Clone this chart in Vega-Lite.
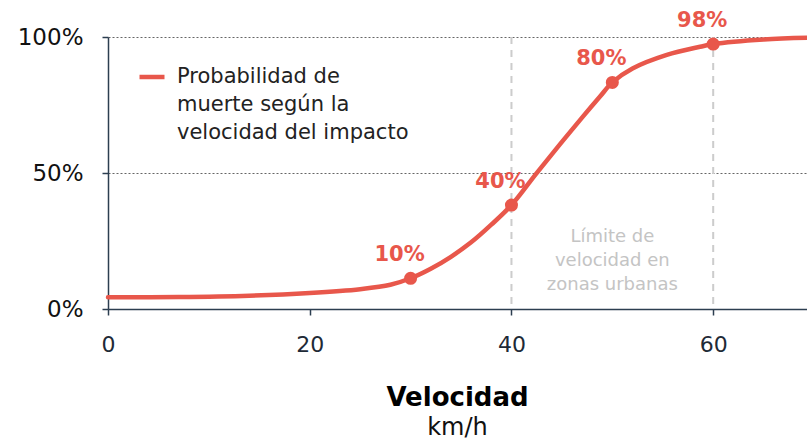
{
  "$schema": "https://vega.github.io/schema/vega-lite/v6.json",
  "width": 699,
  "height": 272,
  "autosize": {"type": "none"},
  "padding": {"left": 108, "top": 37, "right": 0, "bottom": 134},
  "background": "white",
  "config": {
    "view": {"stroke": null},
    "font": "DejaVu Sans"
  },
  "title": {
    "text": "Velocidad",
    "subtitle": "km/h",
    "orient": "bottom",
    "anchor": "middle",
    "font": "DejaVu Sans",
    "fontSize": 26,
    "fontWeight": "bold",
    "color": "#000000",
    "subtitleFont": "DejaVu Sans",
    "subtitleFontSize": 24,
    "subtitleColor": "#111111",
    "subtitlePadding": 5,
    "offset": 30
  },
  "datasets": {
    "curve": [
      {"v": 0, "p": 4.3, "s": "Probabilidad de muerte según la velocidad del impacto"},
      {"v": 7, "p": 4.4, "s": "Probabilidad de muerte según la velocidad del impacto"},
      {"v": 14, "p": 4.9, "s": "Probabilidad de muerte según la velocidad del impacto"},
      {"v": 20, "p": 5.9, "s": "Probabilidad de muerte según la velocidad del impacto"},
      {"v": 25, "p": 7.3, "s": "Probabilidad de muerte según la velocidad del impacto"},
      {"v": 28, "p": 8.9, "s": "Probabilidad de muerte según la velocidad del impacto"},
      {"v": 30, "p": 11.3, "s": "Probabilidad de muerte según la velocidad del impacto"},
      {"v": 32, "p": 14.8, "s": "Probabilidad de muerte según la velocidad del impacto"},
      {"v": 34, "p": 19.2, "s": "Probabilidad de muerte según la velocidad del impacto"},
      {"v": 36, "p": 24.5, "s": "Probabilidad de muerte según la velocidad del impacto"},
      {"v": 38, "p": 31, "s": "Probabilidad de muerte según la velocidad del impacto"},
      {"v": 40, "p": 38.2, "s": "Probabilidad de muerte según la velocidad del impacto"},
      {"v": 42.4, "p": 49.5, "s": "Probabilidad de muerte según la velocidad del impacto"},
      {"v": 44.8, "p": 60.5, "s": "Probabilidad de muerte según la velocidad del impacto"},
      {"v": 47.1, "p": 70.8, "s": "Probabilidad de muerte según la velocidad del impacto"},
      {"v": 48.8, "p": 78.2, "s": "Probabilidad de muerte según la velocidad del impacto"},
      {"v": 50, "p": 83.3, "s": "Probabilidad de muerte según la velocidad del impacto"},
      {"v": 52, "p": 88.4, "s": "Probabilidad de muerte según la velocidad del impacto"},
      {"v": 55.4, "p": 93.4, "s": "Probabilidad de muerte según la velocidad del impacto"},
      {"v": 58.7, "p": 96.4, "s": "Probabilidad de muerte según la velocidad del impacto"},
      {"v": 60, "p": 97.4, "s": "Probabilidad de muerte según la velocidad del impacto"},
      {"v": 65, "p": 99.1, "s": "Probabilidad de muerte según la velocidad del impacto"},
      {"v": 69.3, "p": 99.7, "s": "Probabilidad de muerte según la velocidad del impacto"}
    ],
    "pts": [
      {"v": 30, "p": 11.3, "lab": "10%"},
      {"v": 40, "p": 38.2, "lab": "40%"},
      {"v": 50, "p": 83.3, "lab": "80%"},
      {"v": 60, "p": 97.4, "lab": "98%"}
    ],
    "limits": [{"v": 40}, {"v": 60}],
    "note": [{"v": 50, "p": 26.6, "t": "Límite de\nvelocidad en\nzonas urbanas"}]
  },
  "layer": [
    {
      "data": {"name": "limits"},
      "mark": {"type": "rule", "color": "#cccccc", "strokeWidth": 2, "strokeDash": [7, 6]},
      "encoding": {
        "x": {"field": "v", "type": "quantitative", "scale": {"domain": [0, 69.3], "nice": false}}
      }
    },
    {
      "data": {"name": "note"},
      "mark": {"type": "text", "color": "#c4c4c4", "fontSize": 18, "lineBreak": "\n", "lineHeight": 24, "align": "center", "baseline": "middle"},
      "encoding": {
        "x": {"field": "v", "type": "quantitative"},
        "y": {"field": "p", "type": "quantitative"},
        "text": {"field": "t"}
      }
    },
    {
      "data": {"name": "curve"},
      "mark": {"type": "line", "interpolate": "catmull-rom", "strokeWidth": 4.5, "strokeCap": "round"},
      "encoding": {
        "x": {
          "field": "v", "type": "quantitative",
          "scale": {"domain": [0, 69.3], "nice": false},
          "axis": {
            "values": [0, 20, 40, 60],
            "title": null,
            "grid": false,
            "domainColor": "#2c3e50",
            "domainWidth": 1.5,
            "tickColor": "#2c3e50",
            "tickSize": 6,
            "tickWidth": 1.5,
            "labelFontSize": 22,
            "labelColor": "#1e2a36",
            "labelPadding": 19,
            "labelFlush": false
          }
        },
        "y": {
          "field": "p", "type": "quantitative",
          "scale": {"domain": [0, 100], "nice": false},
          "axis": {
            "values": [0, 50, 100],
            "title": null,
            "labelExpr": "datum.value + '%'",
            "grid": true,
            "gridColor": "#666666",
            "gridDash": [2, 2],
            "gridWidth": 1,
            "domainColor": "#2c3e50",
            "domainWidth": 1.5,
            "tickColor": "#2c3e50",
            "tickSize": 6,
            "tickWidth": 1.5,
            "labelFontSize": 23,
            "labelColor": "#111111",
            "labelPadding": 19
          }
        },
        "color": {
          "field": "s", "type": "nominal",
          "scale": {"range": ["#e8574b"]},
          "legend": {
            "title": null,
            "orient": "none",
            "legendX": 29,
            "legendY": 25,
            "padding": 0,
            "symbolType": "stroke",
            "symbolSize": 625,
            "symbolStrokeWidth": 4.5,
            "labelFontSize": 21,
            "labelColor": "#222222",
            "labelOffset": 10,
            "labelLimit": 400,
            "labelBaseline": "middle",
            "labelExpr": "['Probabilidad de', 'muerte según la', 'velocidad del impacto']",
            "encoding": {"labels": {"lineHeight": {"value": 28}}}
          }
        }
      }
    },
    {
      "data": {"name": "pts"},
      "mark": {"type": "circle", "size": 170, "color": "#e8574b", "opacity": 1},
      "encoding": {
        "x": {"field": "v", "type": "quantitative"},
        "y": {"field": "p", "type": "quantitative"}
      }
    },
    {
      "data": {"name": "pts"},
      "mark": {"type": "text", "color": "#e8574b", "fontSize": 21, "fontWeight": "bold", "dx": -11, "dy": -23, "align": "center", "baseline": "middle"},
      "encoding": {
        "x": {"field": "v", "type": "quantitative"},
        "y": {"field": "p", "type": "quantitative"},
        "text": {"field": "lab"}
      }
    }
  ]
}
